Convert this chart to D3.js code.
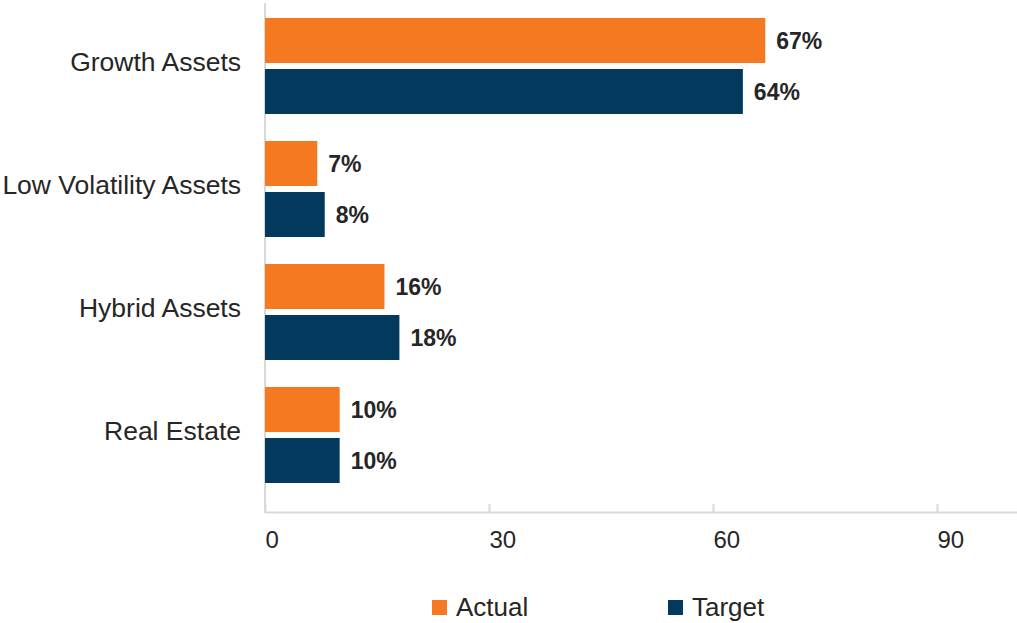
<!DOCTYPE html>
<html>
<head>
<meta charset="utf-8">
<script src="https://cdn.jsdelivr.net/npm/d3@7"></script>
<style>
  body { margin: 0; background: #fff; }
  text { font-family: "Liberation Sans", Arial, sans-serif; fill: #262626; }
</style>
</head>
<body>
<div id="chart"></div>
<script>
const categories = ["Growth Assets", "Low Volatility Assets", "Hybrid Assets", "Real Estate"];
const seriesNames = ["Actual", "Target"];
const actual = [67, 7, 16, 10];
const target = [64, 8, 18, 10];
const tickValues = [0, 30, 60, 90];
const colors = ["#F47920", "#02395C"];

const width = 1017, height = 623;

const rows = categories.map((c, i) => ({ category: c, values: [actual[i], target[i]] }));

const svg = d3.select("#chart")
    .append("svg")
    .attr("width", width)
    .attr("height", height);

// scales
const x = d3.scaleLinear()
    .domain([0, 101])
    .range([265, 265 + 101 * 224 / 30]);

const y = d3.scaleBand()
    .domain(categories)
    .range([4.5, 496.5])
    .paddingInner(27 / 123)
    .paddingOuter(13.5 / 123);

const ySub = d3.scaleBand()
    .domain(seriesNames)
    .range([0, y.bandwidth()])
    .paddingInner(6 / 51);

// x axis (ticks pointing up, labels left aligned at tick)
const xAxis = svg.append("g")
    .attr("transform", "translate(0,512)")
    .call(d3.axisBottom(x).tickValues(tickValues).tickSizeOuter(0).tickSizeInner(-8).tickPadding(0));
xAxis.select(".domain").attr("stroke", "#d9d9d9").attr("stroke-width", 2);
xAxis.selectAll(".tick line").attr("stroke", "#d9d9d9").attr("stroke-width", 2);
xAxis.selectAll(".tick text")
    .attr("text-anchor", "start")
    .attr("y", 36)
    .attr("dy", 0)
    .attr("font-size", 24)
    .style("fill", "#262626");

// y axis line
svg.append("line")
    .attr("x1", x(0)).attr("x2", x(0))
    .attr("y1", 3).attr("y2", 513)
    .attr("stroke", "#d9d9d9")
    .attr("stroke-width", 2);

// category labels
svg.append("g")
    .selectAll("text")
    .data(categories)
    .enter()
    .append("text")
    .attr("x", 241)
    .attr("y", d => y(d) + y.bandwidth() / 2 + 5)
    .attr("text-anchor", "end")
    .attr("font-size", 26.5)
    .text(d => d);

// bars
const groups = svg.append("g")
    .selectAll("g")
    .data(rows)
    .enter()
    .append("g")
    .attr("transform", d => `translate(0,${y(d.category)})`);

groups.selectAll("rect")
    .data(d => d.values.map((v, i) => ({ name: seriesNames[i], value: v, idx: i })))
    .enter()
    .append("rect")
    .attr("x", x(0))
    .attr("y", d => ySub(d.name))
    .attr("width", d => x(d.value) - x(0))
    .attr("height", ySub.bandwidth())
    .attr("fill", d => colors[d.idx]);

groups.selectAll("text")
    .data(d => d.values.map((v, i) => ({ name: seriesNames[i], value: v })))
    .enter()
    .append("text")
    .attr("x", d => x(d.value) + 11)
    .attr("y", d => ySub(d.name) + ySub.bandwidth() / 2 + 8)
    .attr("font-size", 23)
    .attr("font-weight", "bold")
    .text(d => d.value + "%");

// legend
const legendX = [432, 668];
const legend = svg.append("g")
    .selectAll("g")
    .data(seriesNames)
    .enter()
    .append("g")
    .attr("transform", (d, i) => `translate(${legendX[i]},600)`);

legend.append("rect")
    .attr("width", 15)
    .attr("height", 15)
    .attr("fill", (d, i) => colors[i]);

legend.append("text")
    .attr("x", 24)
    .attr("y", 16)
    .attr("font-size", 26)
    .text(d => d);
</script>
</body>
</html>
